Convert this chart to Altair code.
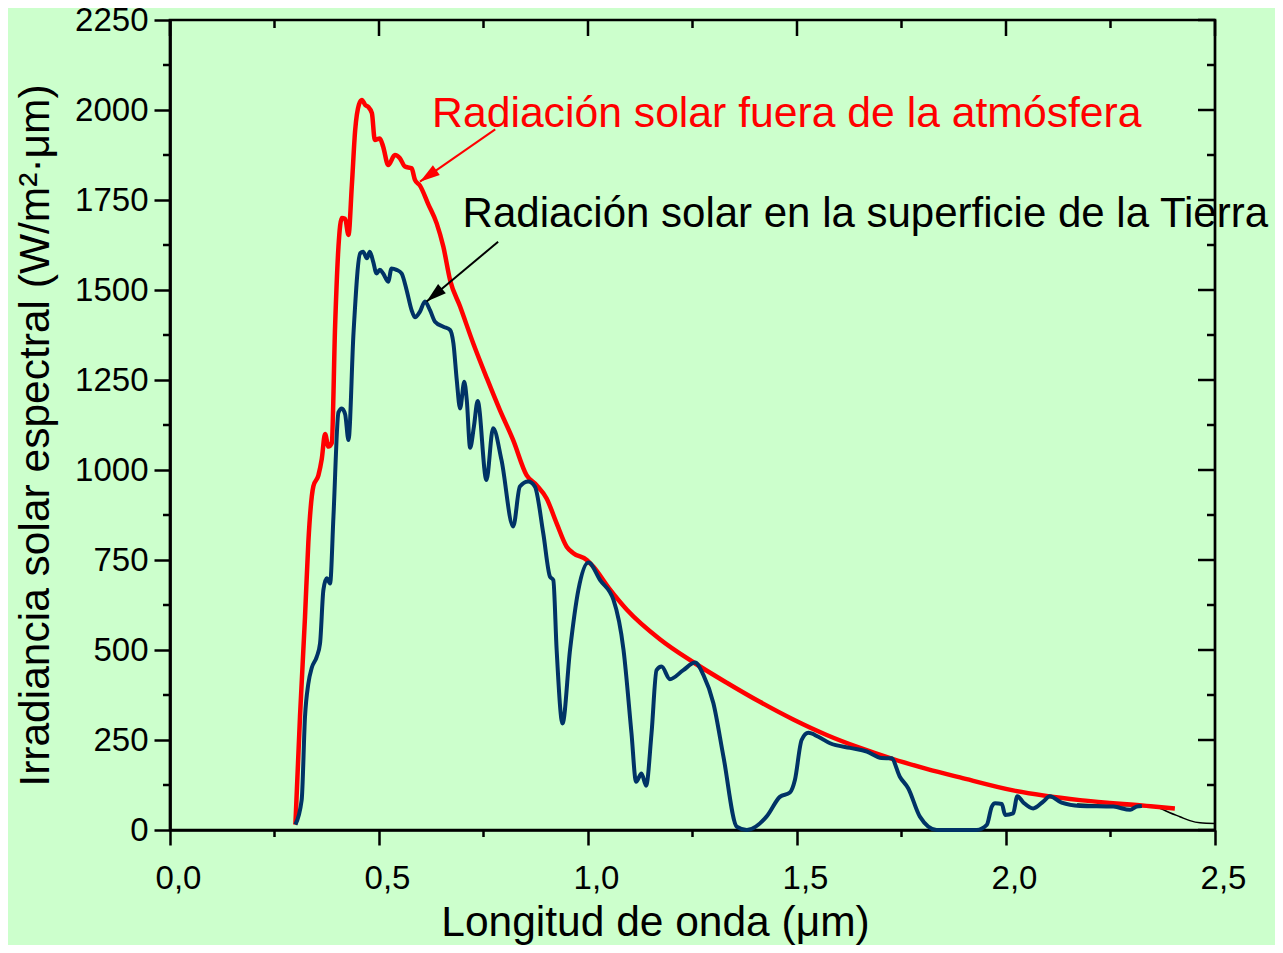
import altair as alt
import pandas as pd

# ---------------- data ----------------
# Radiación solar fuera de la atmósfera (extraterrestrial)
red_wl = [0.300, 0.311, 0.323, 0.331, 0.343, 0.355, 0.363, 0.371, 0.379, 0.387,
          0.395, 0.403, 0.411, 0.419, 0.427, 0.435, 0.443, 0.452, 0.459, 0.467,
          0.474, 0.483, 0.490, 0.502, 0.510, 0.522, 0.538, 0.550, 0.562, 0.578,
          0.586, 0.598, 0.618, 0.638, 0.654, 0.670, 0.694, 0.726, 0.758, 0.789,
          0.821, 0.853, 0.877, 0.901, 0.925, 0.949, 0.965, 0.997, 1.013, 1.050,
          1.093, 1.172, 1.252, 1.332, 1.411, 1.491, 1.571, 1.651, 1.730, 1.810,
          1.890, 2.017, 2.177, 2.336, 2.404]
red_irr = [15, 315, 592, 800, 955, 985, 1030, 1100, 1065, 1075,
           1400, 1620, 1700, 1698, 1653, 1790, 1944, 2015, 2028, 2014,
           2009, 1991, 1917, 1921, 1898, 1847, 1875, 1866, 1843, 1838,
           1806, 1790, 1738, 1685, 1620, 1528, 1454, 1350, 1255, 1167,
           1083, 986, 958, 921, 852, 787, 769, 750, 731, 672,
           612, 530, 466, 409, 356, 307, 264, 228, 197, 170,
           146, 110, 83, 67, 60]

# Radiación solar en la superficie de la Tierra
blue_wl = [0.300, 0.315, 0.323, 0.331, 0.339, 0.351, 0.359, 0.367, 0.375, 0.383,
           0.391, 0.403, 0.411, 0.419, 0.427, 0.439, 0.455, 0.462, 0.471, 0.478,
           0.486, 0.494, 0.502, 0.510, 0.522, 0.530, 0.542, 0.554, 0.566, 0.578,
           0.586, 0.598, 0.610, 0.622, 0.634, 0.654, 0.670, 0.678, 0.686, 0.694,
           0.704, 0.710, 0.718, 0.727, 0.736, 0.757, 0.773, 0.793, 0.821, 0.837,
           0.857, 0.873, 0.893, 0.909, 0.917, 0.925, 0.939, 0.957, 0.977, 1.001,
           1.029, 1.061, 1.085, 1.104, 1.115, 1.128, 1.139, 1.152, 1.164, 1.176,
           1.196, 1.228, 1.256, 1.276, 1.300, 1.324, 1.356, 1.380, 1.427, 1.459,
           1.483, 1.495, 1.511, 1.527, 1.551, 1.579, 1.627, 1.667, 1.702, 1.726,
           1.746, 1.766, 1.794, 1.834, 1.930, 1.954, 1.966, 1.974, 1.990, 1.998,
           2.017, 2.027, 2.042, 2.065, 2.089, 2.105, 2.133, 2.177, 2.257, 2.297,
           2.312, 2.325]
blue_irr = [15, 83, 315, 407, 450, 481, 519, 667, 699, 685,
            870, 1160, 1171, 1155, 1083, 1380, 1602, 1606, 1588, 1606,
            1579, 1546, 1556, 1546, 1523, 1560, 1556, 1546, 1500, 1444,
            1424, 1440, 1468, 1444, 1412, 1398, 1389, 1352, 1250, 1171,
            1245, 1194, 1062, 1120, 1192, 972, 1116, 1028, 843, 954,
            968, 954, 824, 704, 694, 500, 296, 500, 667, 743,
            694, 639, 500, 269, 134, 157, 123, 269, 444, 454,
            419, 444, 465, 431, 352, 204, 9, 0, 37, 92,
            104, 139, 250, 270, 259, 241, 228, 218, 200, 199,
            148, 116, 37, 0, 0, 14, 65, 74, 72, 42,
            46, 94, 76, 60, 79, 94, 76, 67, 65, 56,
            65, 67]

# thin black reference curve at the long-wave end
ref_wl = [2.170, 2.250, 2.336, 2.368, 2.392, 2.416, 2.440, 2.464, 2.500]
ref_irr = [72, 68, 67, 60, 48, 37, 26, 20, 18]

# axis ticks
x_major = [0.0, 0.5, 1.0, 1.5, 2.0, 2.5]
x_minor = [0.25, 0.75, 1.25, 1.75, 2.25]
y_major = [0, 250, 500, 750, 1000, 1250, 1500, 1750, 2000, 2250]
y_minor = [125, 375, 625, 875, 1125, 1375, 1625, 1875, 2125]

# annotations
red_label = ["Radiación solar fuera de la atmósfera"]
red_label_wl = [0.627]
red_label_irr = [1954]
red_arrow_from = [0.778, 1946]
red_arrow_to = [0.598, 1801]

black_label = ["Radiación solar en la superficie de la Tierra"]
black_label_wl = [0.700]
black_label_irr = [1676]
black_arrow_from = [0.785, 1634]
black_arrow_to = [0.614, 1468]

# ---------------- chart ----------------
FONT = "Liberation Sans"
W, H = 1045, 810

xs = alt.Scale(domain=[0, 2.5], nice=False, zero=False)
ys = alt.Scale(domain=[0, 2250], nice=False, zero=False)

x_axis = alt.Axis(
    values=x_major,
    labelExpr="replace(format(datum.value, '.1f'), '.', ',')",
    grid=False, domainColor="black", domainWidth=2.7,
    tickColor="black", tickSize=15, tickWidth=2.5,
    labelFont=FONT, labelFontSize=33, labelColor="black",
    labelPadding=43, labelBaseline="alphabetic", labelOffset=8,
    labelFlush=False, labelOverlap=False,
    title="Longitud de onda (μm)", titleFont=FONT, titleFontSize=42.5,
    titleFontWeight="normal", titleColor="black",
    titleX=485, titleY=105, titleAlign="center", titleBaseline="alphabetic",
)
y_axis = alt.Axis(
    values=y_major, format="d",
    grid=False, domainColor="black", domainWidth=2.7,
    tickColor="black", tickSize=16, tickWidth=2.5,
    labelFont=FONT, labelFontSize=33, labelColor="black",
    labelPadding=6, labelFlush=False, labelOverlap=False,
    title="Irradiancia solar espectral (W/m²·μm)", titleFont=FONT,
    titleFontSize=42.5, titleFontWeight="normal", titleColor="black",
    titleAngle=270, titleX=-122, titleY=415, titleAlign="center",
    titleBaseline="alphabetic",
)


def X(field):
    return alt.X(field, scale=xs, axis=x_axis)


def Y(field):
    return alt.Y(field, scale=ys, axis=y_axis)


red_df = pd.DataFrame({"wl": red_wl, "irr": red_irr})
blue_df = pd.DataFrame({"wl": blue_wl, "irr": blue_irr})
ref_df = pd.DataFrame({"wl": ref_wl, "irr": ref_irr})

ref_line = alt.Chart(ref_df).mark_line(
    color="black", strokeWidth=1.5, interpolate="monotone"
).encode(x=X("wl:Q"), y=Y("irr:Q"))
red_line = alt.Chart(red_df).mark_line(
    color="#FF0000", strokeWidth=4.5, interpolate="monotone"
).encode(x=X("wl:Q"), y=Y("irr:Q"))
blue_line = alt.Chart(blue_df).mark_line(
    color="#003366", strokeWidth=4, interpolate="monotone"
).encode(x=X("wl:Q"), y=Y("irr:Q"))

# tick decorations (minor ticks outward, top/right ticks inward)
xmaj_df = pd.DataFrame({"wl": x_major})
xmin_df = pd.DataFrame({"wl": x_minor})
ymaj_df = pd.DataFrame({"irr": y_major})
ymin_df = pd.DataFrame({"irr": y_minor})


def xrule(df, y0, y1):
    return alt.Chart(df).mark_rule(color="black", strokeWidth=2.5).encode(
        x=X("wl:Q"), y=alt.value(y0), y2=alt.value(y1))


def yrule(df, x0, x1):
    return alt.Chart(df).mark_rule(color="black", strokeWidth=2.5).encode(
        y=Y("irr:Q"), x=alt.value(x0), x2=alt.value(x1))


ticks = [
    xrule(xmin_df, H, H + 7),
    xrule(xmaj_df, 0, 16),
    xrule(xmin_df, 0, 8),
    yrule(ymin_df, 0, -7),
    yrule(ymaj_df, W, W - 17),
    yrule(ymin_df, W, W - 8),
]


# annotations
def label(texts, wl, irr, color, size):
    df = pd.DataFrame({"txt": texts, "wl": wl, "irr": irr})
    return alt.Chart(df).mark_text(
        align="left", baseline="alphabetic", font=FONT, fontSize=size, color=color
    ).encode(x=X("wl:Q"), y=Y("irr:Q"), text="txt:N")


HEAD = "M0,0L-0.6,2L0.6,2Z"


def arrow(frm, to, color, ang):
    df = pd.DataFrame({"wl": [frm[0]], "irr": [frm[1]], "wl2": [to[0]], "irr2": [to[1]]})
    shaft = alt.Chart(df).mark_rule(color=color, strokeWidth=2).encode(
        x=X("wl:Q"), y=Y("irr:Q"), x2="wl2:Q", y2="irr2:Q")
    head = alt.Chart(df).mark_point(
        shape=HEAD, filled=True, color=color, opacity=1, size=400, angle=ang, strokeWidth=0
    ).encode(x=X("wl2:Q"), y=Y("irr2:Q"))
    return shaft + head


chart = alt.layer(
    ref_line, red_line, blue_line, *ticks,
    label(red_label, red_label_wl, red_label_irr, "#FF0000", 42.7),
    label(black_label, black_label_wl, black_label_irr, "black", 42.0),
    arrow(red_arrow_from, red_arrow_to, "#FF0000", 235),
    arrow(black_arrow_from, black_arrow_to, "black", 230),
).properties(
    width=W, height=H,
    autosize=alt.AutoSizeParams(type="none"),
    padding={"left": 162, "top": 12, "right": 60, "bottom": 115},
).configure(
    background="#CCFFCC",
).configure_view(
    stroke="black", strokeWidth=2.7,
)

chart.save("out.html", embed_options={"renderer": "svg", "actions": False})
